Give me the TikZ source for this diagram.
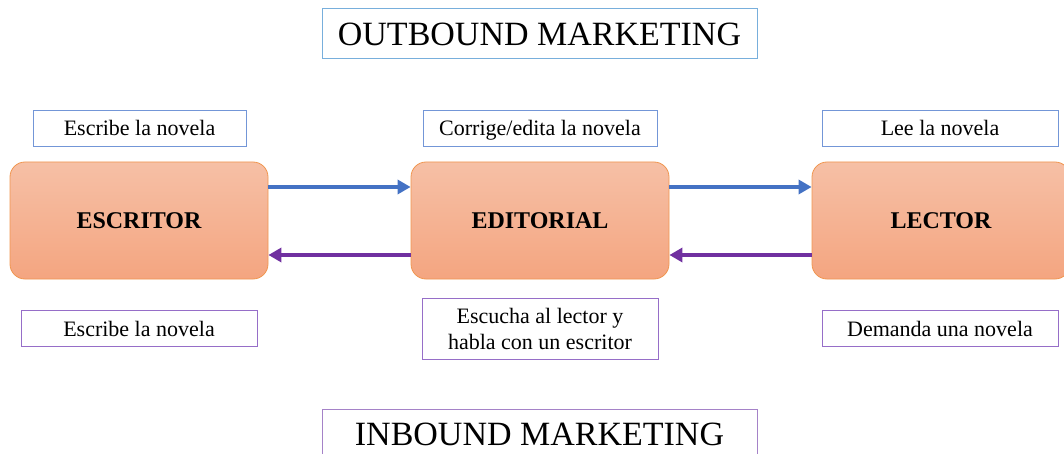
\documentclass[tikz,border=0pt]{standalone}
\usepackage{fontspec}
\setmainfont{Liberation Serif}
\usetikzlibrary{
        arrows.meta,
        positioning,
        shapes
    }
\definecolor{boxorange}{RGB}{240,150,80}
\definecolor{boxtop}{RGB}{246,192,166}
\definecolor{boxbottom}{RGB}{244,165,128}
\definecolor{outblue}{RGB}{68,114,196}
\definecolor{inpurple}{RGB}{112,48,160}
\definecolor{titleblue}{RGB}{120,175,220}
\definecolor{titlepurple}{RGB}{165,130,200}
\definecolor{noteblue}{RGB}{115,150,215}
\definecolor{notepurple}{RGB}{150,110,200}
\tikzset{
    actor/.style={rectangle,rounded corners=15pt,draw=boxorange,line width=0.8pt,
        top color=boxtop,bottom color=boxbottom,minimum width=258pt,minimum height=117pt,
        inner sep=0pt,font=\fontsize{24}{28}\selectfont\bfseries},
    titlebox/.style={rectangle,draw,line width=1pt,minimum width=435pt,minimum height=50pt,
        inner sep=0pt,font=\fontsize{34}{40}\selectfont},
    notebox/.style={rectangle,draw,line width=0.8pt,minimum width=236pt,minimum height=36pt,
        inner sep=2pt,align=center,font=\fontsize{22}{26}\selectfont},
    oneline/.style={text height=18pt,text depth=3pt},
    flow/.style={line width=4pt,-{Triangle[length=13pt,width=14pt]}}
}

\begin{document}
\begin{tikzpicture}[x=1pt,y=-1pt]
    \useasboundingbox (0,0) rectangle (1064,454);
    \node[titlebox,draw=titleblue]   (outbound) at (539.5,34)  {OUTBOUND MARKETING};
    \node[titlebox,draw=titlepurple] (inbound)  at (539.5,434) {INBOUND MARKETING};

    \node[actor] (escritor)  at (139,220.5) {ESCRITOR};
    \node[actor] (editorial) at (540,220.5) {EDITORIAL};
    \node[actor] (lector)    at (941,220.5) {LECTOR};

    % outbound notes
    \node[notebox,oneline,draw=noteblue,minimum width=213pt] (escribe) at (139.5,128) {Escribe la novela};
    \node[notebox,oneline,draw=noteblue,minimum width=234pt] (corrige) at (540,128)   {Corrige/edita la novela};
    \node[notebox,oneline,draw=noteblue]                     (lee)     at (940,128)   {Lee la novela};
    % inbound notes
    \node[notebox,oneline,draw=notepurple] (escribe2) at (139,328.5) {Escribe la novela};
    \node[notebox,draw=notepurple,minimum height=61pt] (escucha) at (540,328.5)
        {Escucha al lector y\\habla con un escritor};
    \node[notebox,oneline,draw=notepurple] (demanda)  at (940,328.5) {Demanda una novela};

    \draw[flow,outblue] ([yshift=33.5pt]escritor.east) -- ([yshift=33.5pt]editorial.west);
    \draw[flow,outblue] ([yshift=33.5pt]editorial.east) -- ([yshift=33.5pt]lector.west);
    \draw[flow,inpurple] ([yshift=-34.5pt]lector.west) -- ([yshift=-34.5pt]editorial.east);
    \draw[flow,inpurple] ([yshift=-34.5pt]editorial.west) -- ([yshift=-34.5pt]escritor.east);
\end{tikzpicture}
\end{document}
